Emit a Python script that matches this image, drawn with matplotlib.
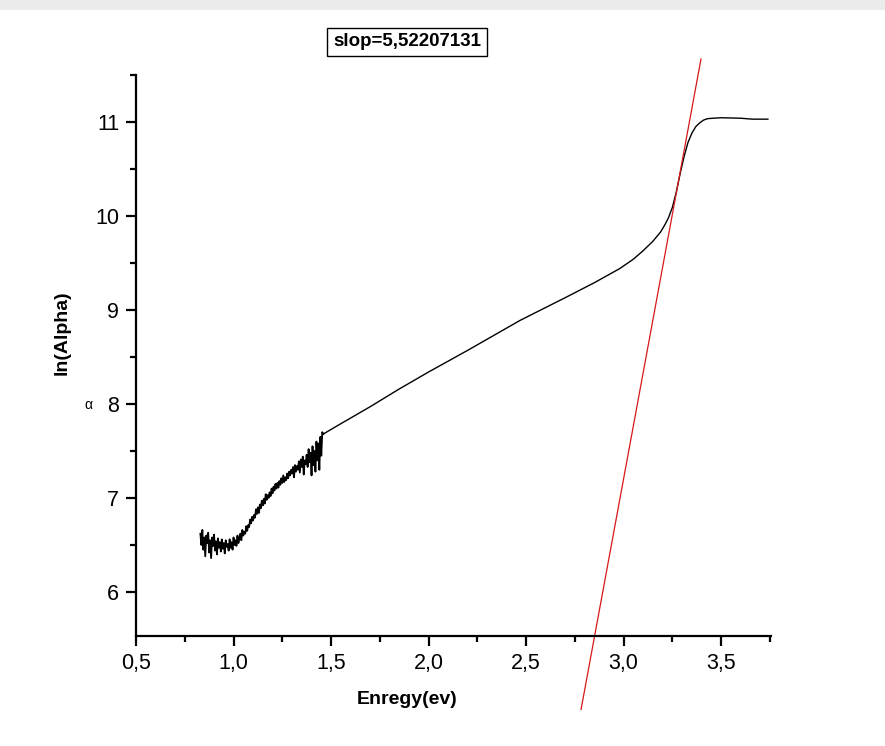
import matplotlib
matplotlib.use("Agg")
import matplotlib.pyplot as plt
from matplotlib.ticker import MultipleLocator, FixedLocator, FixedFormatter
from matplotlib.patches import Rectangle

plt.rcParams['font.family'] = ['Liberation Sans', 'DejaVu Sans']

# noisy low-energy part of the spectrum
x_noisy = [0.830, 0.835, 0.840, 0.845, 0.850, 0.855, 0.860, 0.865, 0.870, 0.875,
           0.880, 0.885, 0.890, 0.895, 0.900, 0.905, 0.910, 0.915, 0.920, 0.925,
           0.930, 0.935, 0.940, 0.945, 0.950, 0.955, 0.960, 0.965, 0.970, 0.975,
           0.980, 0.985, 0.990, 0.995, 1.000, 1.005, 1.010, 1.015, 1.020, 1.025,
           1.030, 1.035, 1.040, 1.045, 1.050, 1.055, 1.060, 1.065, 1.070, 1.075,
           1.080, 1.085, 1.090, 1.095, 1.100, 1.105, 1.110, 1.115, 1.120, 1.125,
           1.130, 1.135, 1.140, 1.145, 1.150, 1.155, 1.160, 1.165, 1.170, 1.175,
           1.180, 1.185, 1.190, 1.195, 1.200, 1.205, 1.210, 1.215, 1.220, 1.225,
           1.230, 1.235, 1.240, 1.245, 1.250, 1.255, 1.260, 1.265, 1.270, 1.275,
           1.280, 1.285, 1.290, 1.295, 1.300, 1.305, 1.310, 1.315, 1.320, 1.325,
           1.330, 1.335, 1.340, 1.345, 1.350, 1.355, 1.360, 1.365, 1.370, 1.375,
           1.380, 1.385, 1.390, 1.395, 1.400, 1.405, 1.410, 1.415, 1.420, 1.425,
           1.430, 1.435, 1.440, 1.445, 1.450, 1.455, 1.460]
y_noisy = [6.62, 6.50, 6.66, 6.45, 6.58, 6.38, 6.60, 6.52, 6.63, 6.42,
           6.55, 6.36, 6.58, 6.49, 6.61, 6.44, 6.54, 6.40, 6.57, 6.47,
           6.53, 6.43, 6.56, 6.46, 6.52, 6.41, 6.55, 6.48, 6.51, 6.44,
           6.56, 6.47, 6.53, 6.45, 6.58, 6.50, 6.55, 6.49, 6.60, 6.52,
           6.57, 6.62, 6.55, 6.66, 6.60, 6.64, 6.62, 6.70, 6.65, 6.71,
           6.69, 6.77, 6.73, 6.80, 6.76, 6.82, 6.79, 6.88, 6.83, 6.90,
           6.84, 6.93, 6.89, 6.97, 6.92, 6.99, 6.94, 7.04, 6.98, 7.03,
           7.00, 7.06, 7.02, 7.10, 7.05, 7.12, 7.08, 7.15, 7.10, 7.16,
           7.11, 7.18, 7.14, 7.21, 7.16, 7.24, 7.17, 7.22, 7.19, 7.26,
           7.21, 7.28, 7.24, 7.30, 7.26, 7.33, 7.22, 7.35, 7.28, 7.34,
           7.30, 7.39, 7.27, 7.41, 7.33, 7.44, 7.25, 7.40, 7.36, 7.46,
           7.33, 7.52, 7.38, 7.48, 7.24, 7.55, 7.35, 7.50, 7.28, 7.60,
           7.40, 7.58, 7.30, 7.65, 7.45, 7.70, 7.68]

# smooth part
x_smooth = [1.46, 1.55, 1.70, 1.85, 2.00, 2.20, 2.47, 2.70, 2.85, 2.98, 3.05,
            3.10, 3.15, 3.19, 3.21, 3.23, 3.25, 3.27, 3.29, 3.31, 3.33, 3.35,
            3.37, 3.39, 3.41, 3.43, 3.46, 3.50, 3.60, 3.66, 3.74]
y_smooth = [7.68, 7.79, 7.97, 8.16, 8.34, 8.57, 8.89, 9.13, 9.29, 9.44, 9.54,
            9.63, 9.73, 9.83, 9.90, 9.98, 10.09, 10.25, 10.45, 10.63, 10.78, 10.88,
            10.95, 10.99, 11.02, 11.035, 11.04, 11.045, 11.04, 11.03, 11.03]

# fitted line (red)
fit_x = [2.782, 3.397]
fit_y = [4.75, 11.67]

xticks = [0.5, 1.0, 1.5, 2.0, 2.5, 3.0, 3.5]
xtick_labels = ["0,5", "1,0", "1,5", "2,0", "2,5", "3,0", "3,5"]
yticks = [6, 7, 8, 9, 10, 11]
ytick_labels = ["6", "7", "8", "9", "10", "11"]

fig = plt.figure(figsize=(8.85, 7.46), dpi=100)
fig.patches.append(Rectangle((0, 0.987), 1, 0.013, transform=fig.transFigure,
                             facecolor='#ececec', edgecolor='none'))
ax = fig.add_axes([0.1537, 0.1475, 0.7175, 0.752])

ax.plot(x_noisy, y_noisy, color='black', lw=1.3)
ax.plot(x_smooth, y_smooth, color='black', lw=1.0)
ax.plot(fit_x, fit_y, color='#d81818', lw=0.9, clip_on=False)

ax.set_xlim(0.5, 3.756)
ax.set_ylim(5.532, 11.5)

ax.spines['top'].set_visible(False)
ax.spines['right'].set_visible(False)
ax.spines['left'].set_linewidth(1.6)
ax.spines['bottom'].set_linewidth(1.6)

ax.xaxis.set_major_locator(FixedLocator(xticks))
ax.xaxis.set_major_formatter(FixedFormatter(xtick_labels))
ax.yaxis.set_major_locator(FixedLocator(yticks))
ax.yaxis.set_major_formatter(FixedFormatter(ytick_labels))
ax.xaxis.set_minor_locator(MultipleLocator(0.25))
ax.yaxis.set_minor_locator(MultipleLocator(0.5))
ax.tick_params(which='major', direction='out', length=7, width=1.6,
               labelsize=15.5, pad=5)
ax.tick_params(which='minor', direction='out', length=4.5, width=1.6)

fig.text(0.46, 0.0617, "Enregy(ev)", fontsize=14, fontweight='bold',
         ha='center', va='center')
fig.text(0.070, 0.5536, "ln(Alpha)", fontsize=14, fontweight='bold',
         rotation=90, ha='center', va='center')
fig.text(0.0994, 0.457, "α", fontsize=10, ha='center', va='center')

fig.text(0.46, 0.944, "slop=5,52207131", fontsize=13.5, fontweight='bold',
         ha='center', va='center',
         bbox=dict(boxstyle='square,pad=0.3', facecolor='white',
                   edgecolor='black', linewidth=1.0))

fig.savefig("out.png", dpi=100)
